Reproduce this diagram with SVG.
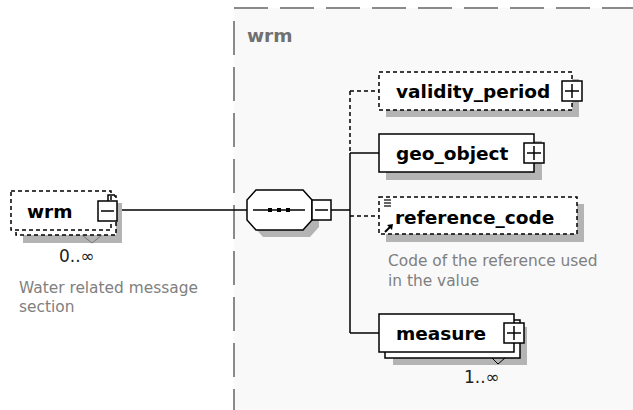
<svg xmlns="http://www.w3.org/2000/svg" width="633" height="410" viewBox="0 0 633 410">
<style>
.bg{fill:#ffffff}
.sh{fill:#b4b4b4;stroke:none}
.box{fill:#ffffff;stroke:#000;stroke-width:1.5}
.opt{fill:#ffffff;stroke:#000;stroke-width:1.5;stroke-dasharray:4 3}
.ln{fill:none;stroke:#000;stroke-width:1.5}
.dl{fill:none;stroke:#000;stroke-width:1.5;stroke-dasharray:4 3}
.frame{fill:none;stroke:#8a8a8a;stroke-width:2;stroke-dasharray:34 12}
.name{font-family:"DejaVu Sans",Verdana,sans-serif;font-weight:bold;font-size:18.5px;fill:#000}
.lab{font-family:"DejaVu Sans",Verdana,sans-serif;font-weight:bold;font-size:18.5px;fill:#707070}
.desc{font-family:"DejaVu Sans",Verdana,sans-serif;font-size:15.4px;fill:#808080}
.occ{font-family:"DejaVu Sans",Verdana,sans-serif;font-size:17px;fill:#222}
</style>
<rect class="bg" x="0" y="0" width="633" height="410"/>
<rect x="234" y="8" width="399" height="402" fill="#f9f9f9"/>
<g id="frame">
<line class="frame" x1="234" y1="8" x2="633" y2="8"/>
<line class="frame" x1="234" y1="21" x2="234" y2="410"/>
<text class="lab" x="247" y="42">wrm</text>
</g>
<g id="connectors">
<line class="ln" x1="118" y1="210" x2="247" y2="210"/>
<line class="ln" x1="331" y1="210" x2="350" y2="210"/>
<line class="dl" x1="350" y1="91" x2="350" y2="153"/>
<line class="ln" x1="350" y1="153" x2="350" y2="333"/>
<line class="dl" x1="350" y1="91" x2="379" y2="91"/>
<line class="ln" x1="350" y1="153" x2="379" y2="153"/>
<line class="dl" x1="350" y1="216" x2="379" y2="216"/>
<line class="ln" x1="350" y1="333" x2="379" y2="333"/>
</g>
<g id="wrm">
<rect class="sh" x="23" y="203" width="99" height="40"/>
<rect class="opt" x="16" y="196" width="100" height="39"/>
<rect class="opt" x="11" y="191" width="100" height="39"/>
<polyline points="82,235 92,243 102,235" fill="none" stroke="#777" stroke-width="1"/>
<polyline class="ln" points="108,201 108,195 115,195" stroke-width="1.2"/>
<rect class="box" x="98" y="201" width="19" height="20"/>
<line class="ln" x1="101" y1="211" x2="114" y2="211"/>
<text class="name" x="27" y="217.5">wrm</text>
<text class="occ" x="59" y="262">0..∞</text>
<text class="desc" x="19" y="293">Water related message</text>
<text class="desc" x="19" y="312">section</text>
</g>
<g id="sequence">
<polygon class="sh" points="263,197 310,197 319,207 319,227 310,237 263,237 254,227 254,207"/>
<polygon class="box" points="256,190 303,190 312,200 312,220 303,230 256,230 247,220 247,200"/>
<line class="ln" x1="253" y1="210" x2="305" y2="210"/>
<rect x="268" y="208" width="4" height="4" fill="#000"/>
<rect x="277" y="208" width="4" height="4" fill="#000"/>
<rect x="286" y="208" width="4" height="4" fill="#000"/>
<rect class="box" x="312" y="200" width="19" height="20"/>
<line class="ln" x1="315" y1="210" x2="328" y2="210"/>
</g>
<g id="validity_period">
<rect class="sh" x="386" y="79" width="193" height="38"/>
<rect class="opt" x="379" y="72" width="193" height="38"/>
<rect class="box" x="562" y="81" width="20" height="20"/>
<line class="ln" x1="565" y1="91" x2="579" y2="91"/>
<line class="ln" x1="572" y1="84" x2="572" y2="98"/>
<text class="name" x="396" y="98">validity_period</text>
</g>
<g id="geo_object">
<rect class="sh" x="386" y="141" width="156" height="39"/>
<rect class="box" x="379" y="134" width="155" height="38"/>
<rect class="box" x="524" y="143" width="20" height="20"/>
<line class="ln" x1="527" y1="153" x2="541" y2="153"/>
<line class="ln" x1="534" y1="146" x2="534" y2="160"/>
<text class="name" x="396" y="160">geo_object</text>
</g>
<g id="reference_code">
<rect class="sh" x="386" y="204" width="198" height="38"/>
<rect class="opt" x="379" y="197" width="198" height="37"/>
<g stroke="#000" stroke-width="1.2">
<line x1="384" y1="200" x2="391" y2="200"/>
<line x1="384" y1="203" x2="391" y2="203"/>
<line x1="384" y1="206" x2="391" y2="206"/>
<line x1="385" y1="232" x2="391" y2="226" stroke-width="2"/>
</g>
<polygon points="393,224 387,225 392,230" fill="#000"/>
<text class="name" x="395" y="224">reference_code</text>
<text class="desc" x="388" y="266">Code of the reference used</text>
<text class="desc" x="388" y="286">in the value</text>
</g>
<g id="measure">
<rect class="sh" x="393" y="327" width="134" height="38"/>
<rect class="box" x="385" y="320" width="135" height="38"/>
<rect class="box" x="379" y="314" width="135" height="38"/>
<polyline points="492,358 498,364 505,358" fill="none" stroke="#000" stroke-width="1"/>
<rect class="box" x="504" y="323" width="20" height="20"/>
<line class="ln" x1="507" y1="333" x2="521" y2="333"/>
<line class="ln" x1="514" y1="326" x2="514" y2="340"/>
<text class="name" x="396" y="340">measure</text>
<text class="occ" x="464" y="383">1..∞</text>
</g>
</svg>
